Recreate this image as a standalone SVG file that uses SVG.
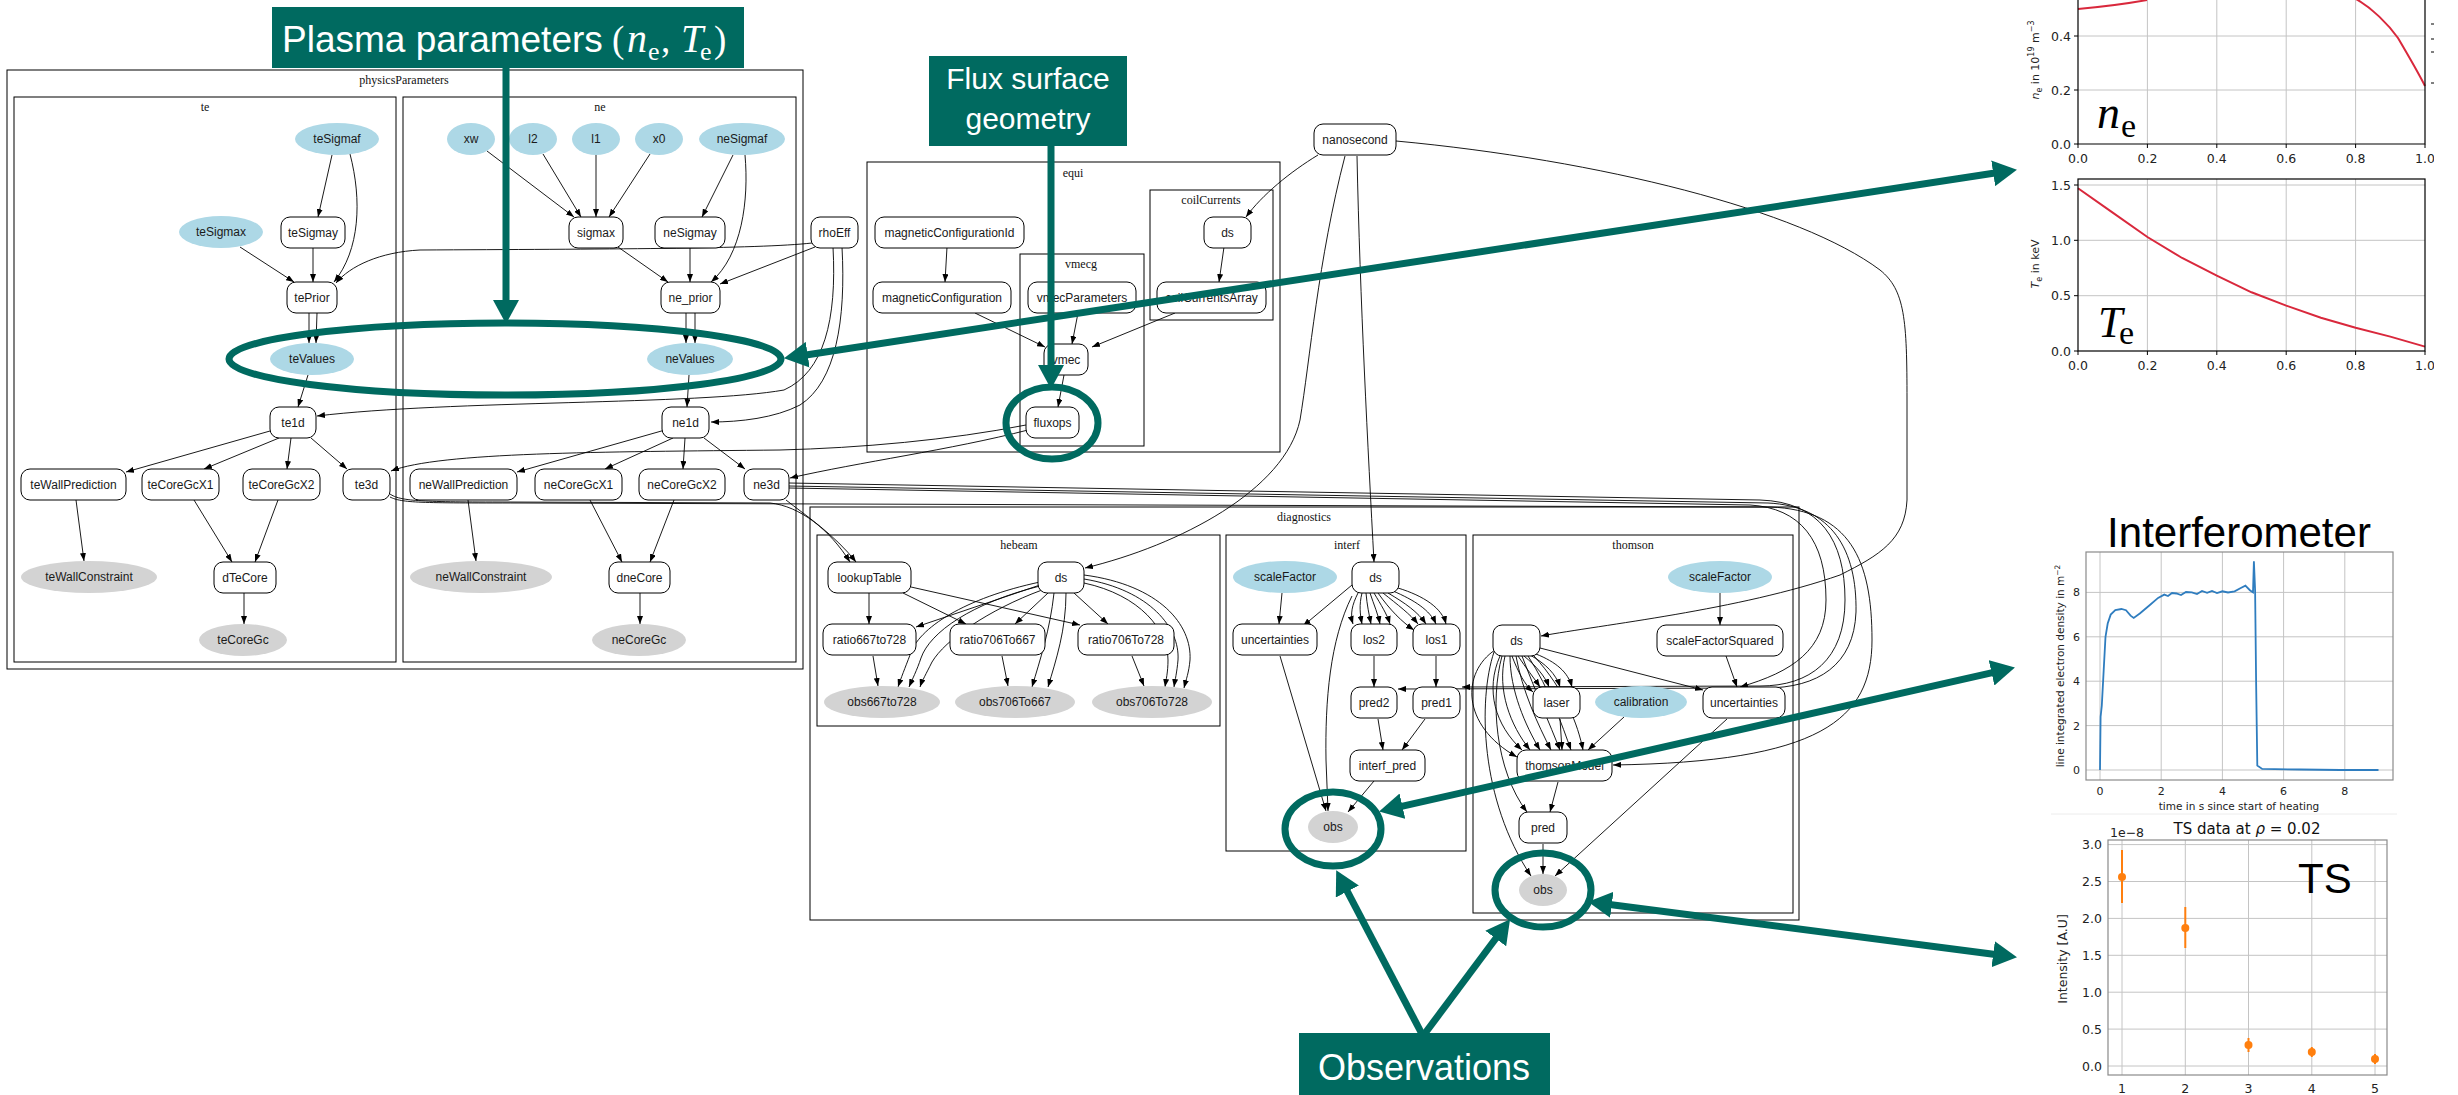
<svg xmlns="http://www.w3.org/2000/svg" width="2458" height="1095" viewBox="0 0 2458 1095">
<defs>
  <marker id="ah" viewBox="0 0 8 6" refX="8" refY="3" markerWidth="8" markerHeight="6" orient="auto" markerUnits="userSpaceOnUse">
    <path d="M0,0L8,3L0,6z" fill="#000"/>
  </marker>
  <marker id="tah" viewBox="0 0 24 26" refX="10" refY="13" markerWidth="24" markerHeight="26" orient="auto-start-reverse" markerUnits="userSpaceOnUse">
    <path d="M0,0L24,13L0,26z" fill="#006A60"/>
  </marker>
  <clipPath id="plotclip"><rect x="1990" y="0" width="444" height="1095"/></clipPath>
</defs>
<style>
  .box rect{fill:#fff;stroke:#000;stroke-width:1}
  .par ellipse{fill:#add8e6}
  .obs ellipse{fill:#d3d3d3}
  .node text{font-family:"Liberation Sans",Arial,sans-serif;font-size:12px;text-anchor:middle;fill:#1a1a1a}
  .cl rect{fill:none;stroke:#000;stroke-width:1}
  .cl text{font-family:"Liberation Serif","Times New Roman",serif;font-size:12px;text-anchor:middle;fill:#111}
  #edges path{fill:none;stroke:#000;stroke-width:0.9;marker-end:url(#ah)}
  .tl{fill:none;stroke:#006A60;stroke-width:7}
  .tl.arr{marker-end:url(#tah)}
  .tl.dbl{marker-start:url(#tah);marker-end:url(#tah)}
  .ring{fill:none;stroke:#006A60;stroke-width:7}
  .tbox{fill:#006A60}
  .ttxt{font-family:"Liberation Sans",Arial,sans-serif;fill:#fff}
  .math{font-family:"Liberation Serif","Times New Roman",serif;fill:#fff}
  .grid{stroke:#c4c4c4;stroke-width:1}
  .ax{fill:none;stroke:#000;stroke-width:1.2}
  .axg{fill:none;stroke:#8a8a8a;stroke-width:1.2}
  .tk{font-family:"DejaVu Sans",sans-serif;font-size:12.5px;fill:#222}
  .tks{font-family:"DejaVu Sans",sans-serif;font-size:11px;fill:#222}
</style>
<rect width="2458" height="1095" fill="#fff"/>

<!-- clusters -->
<g id="clusters">
  <g class="cl" id="cl-physicsParameters"><rect x="7" y="70" width="796" height="599"/><text x="404" y="84">physicsParameters</text></g>
  <g class="cl" id="cl-te"><rect x="14" y="97" width="382" height="565"/><text x="205" y="111">te</text></g>
  <g class="cl" id="cl-ne"><rect x="403" y="97" width="393" height="565"/><text x="600" y="111">ne</text></g>
  <g class="cl" id="cl-equi"><rect x="867" y="162" width="413" height="290"/><text x="1073" y="177">equi</text></g>
  <g class="cl" id="cl-vmecg"><rect x="1020" y="254" width="124" height="192"/><text x="1081" y="268">vmecg</text></g>
  <g class="cl" id="cl-coilCurrents"><rect x="1150" y="190" width="123" height="130"/><text x="1211" y="204">coilCurrents</text></g>
  <g class="cl" id="cl-diagnostics"><rect x="810" y="507" width="989" height="413"/><text x="1304" y="521">diagnostics</text></g>
  <g class="cl" id="cl-hebeam"><rect x="817" y="535" width="403" height="191"/><text x="1019" y="549">hebeam</text></g>
  <g class="cl" id="cl-interf"><rect x="1226" y="535" width="240" height="316"/><text x="1347" y="549">interf</text></g>
  <g class="cl" id="cl-thomson"><rect x="1473" y="535" width="320" height="378"/><text x="1633" y="549">thomson</text></g>
</g>

<!-- connectors -->
<g id="edges">
  <!-- te -->
  <path d="M332,155 L318,217"/>
  <path d="M350,154 C362,200 360,250 334,282"/>
  <path d="M240,247 L294,282"/>
  <path d="M313,247 L313,282"/>
  <path d="M309,313 L309,343"/>
  <path d="M317,313 L316,343"/>
  <path d="M308,375 L298,407"/>
  <path d="M812,243 C760,249 600,249 420,250 C380,252 350,266 336,283"/>
  <path d="M815,247 L720,284"/>
  <path d="M833,247 C837,320 824,372 784,390 C700,405 450,400 317,416"/>
  <path d="M842,247 C846,320 836,382 800,405 C775,418 740,422 711,422"/>
  <path d="M270,431 L126,472"/>
  <path d="M279,438 L204,469"/>
  <path d="M291,438 L287,469"/>
  <path d="M311,438 L347,469"/>
  <path d="M76,500 L84,561"/>
  <path d="M194,500 L232,562"/>
  <path d="M278,500 L255,562"/>
  <path d="M244,593 L244,624"/>
  <!-- ne -->
  <path d="M487,151 L574,217"/>
  <path d="M543,154 L581,217"/>
  <path d="M596,155 L596,217"/>
  <path d="M650,154 L609,217"/>
  <path d="M733,155 L702,217"/>
  <path d="M745,155 C749,200 742,255 711,282"/>
  <path d="M618,247 L668,282"/>
  <path d="M690,247 L690,282"/>
  <path d="M686,313 L686,343"/>
  <path d="M695,313 L695,343"/>
  <path d="M689,375 L687,407"/>
  <path d="M665,430 L517,472"/>
  <path d="M673,438 L605,469"/>
  <path d="M685,438 L683,469"/>
  <path d="M704,438 L745,469"/>
  <path d="M468,500 L476,561"/>
  <path d="M590,500 L622,562"/>
  <path d="M674,500 L650,562"/>
  <path d="M640,593 L640,624"/>
  <!-- equi -->
  <path d="M947,247 L945,282"/>
  <path d="M975,313 L1045,347"/>
  <path d="M1078,313 L1072,344"/>
  <path d="M1175,313 L1092,347"/>
  <path d="M1224,247 L1219,282"/>
  <path d="M1064,375 L1058,407"/>
  <path d="M1318,155 C1290,172 1262,195 1246,217"/>
  <path d="M1026,425 C950,440 860,448 780,450 C600,452 440,452 391,471"/>
  <path d="M1028,430 C950,450 860,462 790,478"/>
  <!-- profiles into diagnostics -->
  <path d="M390,494 C400,501 420,502 500,502 L770,503 C800,506 830,530 850,562"/>
  <path d="M786,500 C805,515 835,535 856,562"/>
  <path d="M390,497 C402,503 420,503 520,503 L1770,507 C1850,510 1872,560 1872,640 C1872,720 1820,762 1613,765"/>
  <path d="M789,483 L1760,500 C1820,502 1845,540 1845,600 C1845,660 1810,686 1760,686 L1462,687"/>
  <path d="M789,486 L1768,503 C1832,506 1857,550 1856,612 C1854,665 1818,688 1765,688 L1398,689"/>
  <path d="M789,488 L1750,505 C1800,508 1826,540 1826,600 C1826,650 1792,672 1740,687"/>
  <!-- nanosecond -->
  <path d="M1345,156 C1318,260 1310,360 1300,420 C1285,490 1180,545 1085,568"/>
  <path d="M1357,156 C1360,300 1368,450 1374,562"/>
  <path d="M1396,141 C1600,160 1800,210 1880,270 C1905,290 1907,320 1907,400 L1907,500 C1905,540 1880,555 1840,575 C1740,610 1600,625 1541,636"/>
  <!-- hebeam -->
  <path d="M869,593 L869,624"/>
  <path d="M903,593 L966,624"/>
  <path d="M911,587 L1080,625"/>
  <path d="M1040,585 L916,627"/>
  <path d="M1048,593 L1015,624"/>
  <path d="M1074,593 L1108,624"/>
  <path d="M1040,582 C965,598 918,628 910,655 C905,668 901,678 898,687"/>
  <path d="M1040,586 C972,603 930,632 921,658 C917,670 912,680 909,687"/>
  <path d="M1042,590 C988,610 945,640 932,662 C926,674 922,681 920,687"/>
  <path d="M1054,593 C1050,630 1040,660 1032,687"/>
  <path d="M1066,593 C1066,630 1056,660 1048,687"/>
  <path d="M1084,575 C1160,585 1192,625 1190,660 C1189,672 1186,680 1184,688"/>
  <path d="M1084,579 C1150,590 1180,628 1178,660 C1177,672 1175,680 1174,687"/>
  <path d="M1084,583 C1140,595 1168,630 1168,660 C1168,672 1166,680 1165,687"/>
  <path d="M873,656 L878,686"/>
  <path d="M1002,656 L1008,686"/>
  <path d="M1132,656 L1144,686"/>
  <!-- interf -->
  <path d="M1282,593 L1279,624"/>
  <path d="M1352,585 L1303,626"/>
  <path d="M1358,593 C1352,605 1350,614 1353,624"/>
  <path d="M1362,593 C1359,605 1360,614 1362,624"/>
  <path d="M1366,593 C1367,605 1369,614 1371,624"/>
  <path d="M1370,593 C1374,605 1378,614 1380,624"/>
  <path d="M1374,593 C1381,605 1387,614 1390,624"/>
  <path d="M1378,593 C1390,610 1402,622 1414,630"/>
  <path d="M1383,593 C1398,605 1410,614 1418,624"/>
  <path d="M1388,593 C1405,603 1418,612 1426,624"/>
  <path d="M1393,591 C1414,600 1430,610 1436,624"/>
  <path d="M1398,588 C1424,596 1442,608 1446,624"/>
  <path d="M1352,596 C1330,640 1325,700 1326,760 L1328,811"/>
  <path d="M1280,656 L1326,811"/>
  <path d="M1374,656 L1374,687"/>
  <path d="M1436,656 L1436,687"/>
  <path d="M1378,719 L1383,750"/>
  <path d="M1425,719 L1402,750"/>
  <path d="M1374,781 L1348,812"/>
  <!-- thomson -->
  <path d="M1720,593 L1720,625"/>
  <path d="M1726,656 L1737,687"/>
  <path d="M1540,648 L1703,690"/>
  <path d="M1512,656 C1518,672 1525,685 1533,692"/>
  <path d="M1518,656 C1526,668 1534,678 1540,687"/>
  <path d="M1524,656 C1536,666 1545,676 1549,687"/>
  <path d="M1530,655 C1546,664 1556,674 1560,687"/>
  <path d="M1536,654 C1556,662 1568,672 1572,687"/>
  <path d="M1500,656 C1485,690 1495,725 1522,750"/>
  <path d="M1505,656 C1497,690 1510,725 1530,750"/>
  <path d="M1510,656 C1510,690 1525,725 1540,750"/>
  <path d="M1516,656 C1522,690 1538,725 1551,750"/>
  <path d="M1522,656 C1535,690 1550,725 1560,750"/>
  <path d="M1528,656 C1550,690 1562,725 1571,750"/>
  <path d="M1534,656 C1565,690 1578,725 1583,750"/>
  <path d="M1495,650 C1462,672 1460,725 1517,757"/>
  <path d="M1624,717 L1588,750"/>
  <path d="M1560,719 L1562,750"/>
  <path d="M1558,782 L1550,812"/>
  <path d="M1502,656 C1490,700 1495,770 1527,812"/>
  <path d="M1494,652 C1478,700 1480,800 1531,876"/>
  <path d="M1543,844 L1543,874"/>
  <path d="M1727,719 L1555,876"/>
</g>

<!-- nodes: physicsParameters / te -->
<g id="n-teSigmaf" class="node par"><ellipse cx="337" cy="139" rx="42" ry="16"/><text x="337" y="143">teSigmaf</text></g>
<g id="n-teSigmax" class="node par"><ellipse cx="221" cy="232" rx="42" ry="16"/><text x="221" y="236">teSigmax</text></g>
<g id="n-teSigmay" class="node box"><rect x="281" y="217" width="64" height="31" rx="9"/><text x="313" y="236.5">teSigmay</text></g>
<g id="n-tePrior" class="node box"><rect x="287" y="282" width="50" height="31" rx="9"/><text x="312" y="301.5">tePrior</text></g>
<g id="n-teValues" class="node par"><ellipse cx="312" cy="359" rx="42" ry="16"/><text x="312" y="363">teValues</text></g>
<g id="n-te1d" class="node box"><rect x="270" y="407" width="46" height="31" rx="9"/><text x="293" y="426.5">te1d</text></g>
<g id="n-teWallPrediction" class="node box"><rect x="21" y="469" width="105" height="31" rx="9"/><text x="73.5" y="488.5">teWallPrediction</text></g>
<g id="n-teCoreGcX1" class="node box"><rect x="142" y="469" width="77" height="31" rx="9"/><text x="180.5" y="488.5">teCoreGcX1</text></g>
<g id="n-teCoreGcX2" class="node box"><rect x="243" y="469" width="77" height="31" rx="9"/><text x="281.5" y="488.5">teCoreGcX2</text></g>
<g id="n-te3d" class="node box"><rect x="343" y="469" width="47" height="31" rx="9"/><text x="366.5" y="488.5">te3d</text></g>
<g id="n-teWallConstraint" class="node obs"><ellipse cx="89" cy="577" rx="68" ry="16"/><text x="89" y="581">teWallConstraint</text></g>
<g id="n-dTeCore" class="node box"><rect x="214" y="562" width="62" height="31" rx="9"/><text x="245" y="581.5">dTeCore</text></g>
<g id="n-teCoreGc" class="node obs"><ellipse cx="243" cy="640" rx="44" ry="16"/><text x="243" y="644">teCoreGc</text></g>

<!-- nodes: ne -->
<g id="n-xw" class="node par"><ellipse cx="471" cy="139" rx="24" ry="16"/><text x="471" y="143">xw</text></g>
<g id="n-l2" class="node par"><ellipse cx="533" cy="139" rx="24" ry="16"/><text x="533" y="143">l2</text></g>
<g id="n-l1" class="node par"><ellipse cx="596" cy="139" rx="24" ry="16"/><text x="596" y="143">l1</text></g>
<g id="n-x0" class="node par"><ellipse cx="659" cy="139" rx="24" ry="16"/><text x="659" y="143">x0</text></g>
<g id="n-neSigmaf" class="node par"><ellipse cx="742" cy="139" rx="43" ry="16"/><text x="742" y="143">neSigmaf</text></g>
<g id="n-sigmax" class="node box"><rect x="569" y="217" width="54" height="31" rx="9"/><text x="596" y="236.5">sigmax</text></g>
<g id="n-neSigmay" class="node box"><rect x="655" y="217" width="70" height="31" rx="9"/><text x="690" y="236.5">neSigmay</text></g>
<g id="n-ne_prior" class="node box"><rect x="661" y="282" width="59" height="31" rx="9"/><text x="690.5" y="301.5">ne_prior</text></g>
<g id="n-neValues" class="node par"><ellipse cx="690" cy="359" rx="43" ry="16"/><text x="690" y="363">neValues</text></g>
<g id="n-ne1d" class="node box"><rect x="662" y="407" width="47" height="31" rx="9"/><text x="685.5" y="426.5">ne1d</text></g>
<g id="n-neWallPrediction" class="node box"><rect x="410" y="469" width="107" height="31" rx="9"/><text x="463.5" y="488.5">neWallPrediction</text></g>
<g id="n-neCoreGcX1" class="node box"><rect x="535" y="469" width="87" height="31" rx="9"/><text x="578.5" y="488.5">neCoreGcX1</text></g>
<g id="n-neCoreGcX2" class="node box"><rect x="639" y="469" width="86" height="31" rx="9"/><text x="682" y="488.5">neCoreGcX2</text></g>
<g id="n-ne3d" class="node box"><rect x="744" y="469" width="45" height="31" rx="9"/><text x="766.5" y="488.5">ne3d</text></g>
<g id="n-neWallConstraint" class="node obs"><ellipse cx="481" cy="577" rx="71" ry="16"/><text x="481" y="581">neWallConstraint</text></g>
<g id="n-dneCore" class="node box"><rect x="609" y="562" width="61" height="31" rx="9"/><text x="639.5" y="581.5">dneCore</text></g>
<g id="n-neCoreGc" class="node obs"><ellipse cx="639" cy="640" rx="47" ry="16"/><text x="639" y="644">neCoreGc</text></g>

<!-- nodes: shared / equi -->
<g id="n-rhoEff" class="node box"><rect x="811" y="217" width="47" height="31" rx="9"/><text x="834.5" y="236.5">rhoEff</text></g>
<g id="n-nanosecond" class="node box"><rect x="1314" y="124" width="82" height="31" rx="9"/><text x="1355" y="143.5">nanosecond</text></g>
<g id="n-magneticConfigurationId" class="node box"><rect x="875" y="217" width="149" height="31" rx="9"/><text x="949.5" y="236.5">magneticConfigurationId</text></g>
<g id="n-magneticConfiguration" class="node box"><rect x="873" y="282" width="138" height="31" rx="9"/><text x="942" y="301.5">magneticConfiguration</text></g>
<g id="n-vmecParameters" class="node box"><rect x="1028" y="282" width="108" height="31" rx="9"/><text x="1082" y="301.5">vmecParameters</text></g>
<g id="n-vmec" class="node box"><rect x="1044" y="344" width="44" height="31" rx="9"/><text x="1066" y="363.5">vmec</text></g>
<g id="n-fluxops" class="node box"><rect x="1026" y="407" width="53" height="31" rx="9"/><text x="1052.5" y="426.5">fluxops</text></g>
<g id="n-coil-ds" class="node box"><rect x="1204" y="217" width="47" height="31" rx="9"/><text x="1227.5" y="236.5">ds</text></g>
<g id="n-coilCurrentsArray" class="node box"><rect x="1157" y="282" width="109" height="31" rx="9"/><text x="1211.5" y="301.5">coilCurrentsArray</text></g>

<!-- nodes: hebeam -->
<g id="n-lookupTable" class="node box"><rect x="828" y="562" width="83" height="31" rx="9"/><text x="869.5" y="581.5">lookupTable</text></g>
<g id="n-hebeam-ds" class="node box"><rect x="1038" y="562" width="46" height="31" rx="9"/><text x="1061" y="581.5">ds</text></g>
<g id="n-ratio667to728" class="node box"><rect x="823" y="624" width="93" height="31" rx="9"/><text x="869.5" y="643.5">ratio667to728</text></g>
<g id="n-ratio706To667" class="node box"><rect x="950" y="624" width="95" height="31" rx="9"/><text x="997.5" y="643.5">ratio706To667</text></g>
<g id="n-ratio706To728" class="node box"><rect x="1078" y="624" width="96" height="31" rx="9"/><text x="1126" y="643.5">ratio706To728</text></g>
<g id="n-obs667to728" class="node obs"><ellipse cx="882" cy="702" rx="58" ry="16"/><text x="882" y="706">obs667to728</text></g>
<g id="n-obs706To667" class="node obs"><ellipse cx="1015" cy="702" rx="60" ry="16"/><text x="1015" y="706">obs706To667</text></g>
<g id="n-obs706To728" class="node obs"><ellipse cx="1152" cy="702" rx="60" ry="16"/><text x="1152" y="706">obs706To728</text></g>

<!-- nodes: interf -->
<g id="n-interf-scaleFactor" class="node par"><ellipse cx="1285" cy="577" rx="52" ry="16"/><text x="1285" y="581">scaleFactor</text></g>
<g id="n-interf-ds" class="node box"><rect x="1352" y="562" width="47" height="31" rx="9"/><text x="1375.5" y="581.5">ds</text></g>
<g id="n-interf-uncertainties" class="node box"><rect x="1233" y="624" width="84" height="31" rx="9"/><text x="1275" y="643.5">uncertainties</text></g>
<g id="n-los2" class="node box"><rect x="1351" y="624" width="46" height="31" rx="9"/><text x="1374" y="643.5">los2</text></g>
<g id="n-los1" class="node box"><rect x="1413" y="624" width="47" height="31" rx="9"/><text x="1436.5" y="643.5">los1</text></g>
<g id="n-pred2" class="node box"><rect x="1351" y="687" width="46" height="31" rx="9"/><text x="1374" y="706.5">pred2</text></g>
<g id="n-pred1" class="node box"><rect x="1413" y="687" width="47" height="31" rx="9"/><text x="1436.5" y="706.5">pred1</text></g>
<g id="n-interf_pred" class="node box"><rect x="1350" y="750" width="75" height="31" rx="9"/><text x="1387.5" y="769.5">interf_pred</text></g>
<g id="n-interf-obs" class="node obs"><ellipse cx="1333" cy="827" rx="25" ry="16"/><text x="1333" y="831">obs</text></g>

<!-- nodes: thomson -->
<g id="n-thomson-scaleFactor" class="node par"><ellipse cx="1720" cy="577" rx="52" ry="16"/><text x="1720" y="581">scaleFactor</text></g>
<g id="n-thomson-ds" class="node box"><rect x="1493" y="625" width="47" height="31" rx="9"/><text x="1516.5" y="644.5">ds</text></g>
<g id="n-scaleFactorSquared" class="node box"><rect x="1657" y="625" width="126" height="31" rx="9"/><text x="1720" y="644.5">scaleFactorSquared</text></g>
<g id="n-laser" class="node box"><rect x="1533" y="687" width="47" height="31" rx="9"/><text x="1556.5" y="706.5">laser</text></g>
<g id="n-calibration" class="node par"><ellipse cx="1641" cy="702" rx="46" ry="16"/><text x="1641" y="706">calibration</text></g>
<g id="n-thomson-uncertainties" class="node box"><rect x="1703" y="687" width="82" height="31" rx="9"/><text x="1744" y="706.5">uncertainties</text></g>
<g id="n-thomsonModel" class="node box"><rect x="1517" y="750" width="95" height="31" rx="9"/><text x="1564.5" y="769.5">thomsonModel</text></g>
<g id="n-thomson-pred" class="node box"><rect x="1519" y="812" width="48" height="31" rx="9"/><text x="1543" y="831.5">pred</text></g>
<g id="n-thomson-obs" class="node obs"><ellipse cx="1543" cy="890" rx="24" ry="16"/><text x="1543" y="894">obs</text></g>

<!-- plot: density profile -->
<g id="plot-ne" clip-path="url(#plotclip)">
  <g class="grid">
    <line x1="2147.4" y1="0" x2="2147.4" y2="144"/><line x1="2216.8" y1="0" x2="2216.8" y2="144"/>
    <line x1="2286.2" y1="0" x2="2286.2" y2="144"/><line x1="2355.6" y1="0" x2="2355.6" y2="144"/>
    <line x1="2078" y1="90" x2="2425" y2="90"/><line x1="2078" y1="36" x2="2425" y2="36"/>
  </g>
  <path d="M2078,9 C2100,7 2125,4 2147,0 M2356,-1 C2372,8 2388,24 2398,38 C2408,55 2418,72 2425,86" fill="none" stroke="#d9283c" stroke-width="2"/>
  <path class="ax" d="M2078,0 V144 H2425 V0"/>
  <g stroke="#000" stroke-width="1">
    <line x1="2074" y1="144" x2="2078" y2="144"/><line x1="2074" y1="90" x2="2078" y2="90"/><line x1="2074" y1="36" x2="2078" y2="36"/>
    <line x1="2078" y1="144" x2="2078" y2="148"/><line x1="2147.4" y1="144" x2="2147.4" y2="148"/><line x1="2216.8" y1="144" x2="2216.8" y2="148"/>
    <line x1="2286.2" y1="144" x2="2286.2" y2="148"/><line x1="2355.6" y1="144" x2="2355.6" y2="148"/><line x1="2425" y1="144" x2="2425" y2="148"/>
    <line x1="2431" y1="24" x2="2434" y2="24"/><line x1="2431" y1="39" x2="2434" y2="39"/><line x1="2431" y1="52" x2="2434" y2="52"/><line x1="2431" y1="83" x2="2434" y2="83"/>
  </g>
  <g class="tk" text-anchor="end">
    <text x="2071" y="148.5">0.0</text><text x="2071" y="94.5">0.2</text><text x="2071" y="40.5">0.4</text>
  </g>
  <g class="tk" text-anchor="middle">
    <text x="2078" y="163">0.0</text><text x="2147.4" y="163">0.2</text><text x="2216.8" y="163">0.4</text>
    <text x="2286.2" y="163">0.6</text><text x="2355.6" y="163">0.8</text><text x="2425" y="163">1.0</text>
  </g>
  <text transform="translate(2039,60) rotate(-90)" text-anchor="middle" font-family="DejaVu Sans, sans-serif" font-size="11" fill="#222"><tspan font-style="italic">n</tspan><tspan font-size="8" dy="3">e</tspan><tspan dy="-3"> in 10</tspan><tspan font-size="8" dy="-5">19</tspan><tspan dy="5"> m</tspan><tspan font-size="8" dy="-5">−3</tspan></text>
  <text x="2097" y="128" font-family="Liberation Serif, serif" font-style="italic" font-size="46" fill="#000">n</text>
  <text x="2121" y="137" font-family="Liberation Serif, serif" font-size="34" fill="#000">e</text>
</g>

<!-- plot: temperature profile -->
<g id="plot-te" clip-path="url(#plotclip)">
  <g class="grid">
    <line x1="2147.4" y1="179" x2="2147.4" y2="351"/><line x1="2216.8" y1="179" x2="2216.8" y2="351"/>
    <line x1="2286.2" y1="179" x2="2286.2" y2="351"/><line x1="2355.6" y1="179" x2="2355.6" y2="351"/>
    <line x1="2078" y1="185" x2="2425" y2="185"/><line x1="2078" y1="240.3" x2="2425" y2="240.3"/><line x1="2078" y1="295.7" x2="2425" y2="295.7"/>
  </g>
  <polyline fill="none" stroke="#d9283c" stroke-width="2" points="2078,188.3 2112.7,212.6 2147.4,237 2182.1,258 2216.8,275.7 2251.5,292.3 2286.2,305.6 2320.9,317.8 2355.6,327.8 2390.3,336.6 2425,346.6"/>
  <rect class="ax" x="2078" y="179" width="347" height="172"/>
  <g stroke="#000" stroke-width="1">
    <line x1="2074" y1="351" x2="2078" y2="351"/><line x1="2074" y1="295.7" x2="2078" y2="295.7"/><line x1="2074" y1="240.3" x2="2078" y2="240.3"/><line x1="2074" y1="185" x2="2078" y2="185"/>
    <line x1="2078" y1="351" x2="2078" y2="355"/><line x1="2147.4" y1="351" x2="2147.4" y2="355"/><line x1="2216.8" y1="351" x2="2216.8" y2="355"/>
    <line x1="2286.2" y1="351" x2="2286.2" y2="355"/><line x1="2355.6" y1="351" x2="2355.6" y2="355"/><line x1="2425" y1="351" x2="2425" y2="355"/>
  </g>
  <g class="tk" text-anchor="end">
    <text x="2071" y="355.5">0.0</text><text x="2071" y="300">0.5</text><text x="2071" y="244.8">1.0</text><text x="2071" y="189.5">1.5</text>
  </g>
  <g class="tk" text-anchor="middle">
    <text x="2078" y="370">0.0</text><text x="2147.4" y="370">0.2</text><text x="2216.8" y="370">0.4</text>
    <text x="2286.2" y="370">0.6</text><text x="2355.6" y="370">0.8</text><text x="2425" y="370">1.0</text>
  </g>
  <text transform="translate(2039,264) rotate(-90)" text-anchor="middle" font-family="DejaVu Sans, sans-serif" font-size="11" fill="#222"><tspan font-style="italic">T</tspan><tspan font-size="8" dy="3">e</tspan><tspan dy="-3"> in keV</tspan></text>
  <text x="2098" y="337" font-family="Liberation Serif, serif" font-style="italic" font-size="44" fill="#000">T</text>
  <text x="2119" y="344" font-family="Liberation Serif, serif" font-size="34" fill="#000">e</text>
</g>

<!-- plot: interferometer -->
<g id="plot-interferometer">
  <text x="2239" y="547" text-anchor="middle" font-family="Liberation Sans, Arial, sans-serif" font-size="42" fill="#000">Interferometer</text>
  <g class="grid">
    <line x1="2100" y1="552" x2="2100" y2="780"/><line x1="2161.2" y1="552" x2="2161.2" y2="780"/><line x1="2222.4" y1="552" x2="2222.4" y2="780"/>
    <line x1="2283.6" y1="552" x2="2283.6" y2="780"/><line x1="2344.8" y1="552" x2="2344.8" y2="780"/>
    <line x1="2086" y1="770" x2="2393" y2="770"/><line x1="2086" y1="725.6" x2="2393" y2="725.6"/><line x1="2086" y1="681.2" x2="2393" y2="681.2"/>
    <line x1="2086" y1="636.8" x2="2393" y2="636.8"/><line x1="2086" y1="592.4" x2="2393" y2="592.4"/>
  </g>
  <polyline fill="none" stroke="#2f7dbf" stroke-width="1.8" points="2100,770 2100.6,716.7 2101.8,705.6 2103.7,670.1 2105.5,636.8 2107.7,623.5 2110.7,614.6 2115.3,610.2 2121.4,609 2126,610.2 2130.6,615.7 2133.7,617.9 2139.8,613.5 2149,605.7 2158.1,597.9 2164.3,594.6 2168,596 2172,593 2176.5,593.5 2181,595 2186,592 2191.8,592.4 2197,594 2202,591 2207.1,592.8 2212,591 2217,593 2222.4,591.3 2228,592.5 2234.6,591.3 2240.8,588 2245.4,585.7 2249.9,590.2 2253,592.4 2253.9,561.3 2255.1,590.2 2256.1,681.2 2257.3,765.6 2262.2,768.9 2300,769.5 2340,770 2378.5,770"/>
  <rect class="axg" x="2086" y="552" width="307" height="228"/>
  <g class="tks" text-anchor="end">
    <text x="2080" y="774">0</text><text x="2080" y="729.6">2</text><text x="2080" y="685.2">4</text><text x="2080" y="640.8">6</text><text x="2080" y="596.4">8</text>
  </g>
  <g class="tks" text-anchor="middle">
    <text x="2100" y="795">0</text><text x="2161.2" y="795">2</text><text x="2222.4" y="795">4</text><text x="2283.6" y="795">6</text><text x="2344.8" y="795">8</text>
  </g>
  <text x="2239" y="810" text-anchor="middle" font-family="DejaVu Sans, sans-serif" font-size="10.5" fill="#222">time in s since start of heating</text>
  <text transform="translate(2064,666) rotate(-90)" text-anchor="middle" font-family="DejaVu Sans, sans-serif" font-size="10.5" fill="#222">line integrated electron density in m<tspan font-size="7.5" dy="-4">−2</tspan></text>
  <line x1="2051" y1="814" x2="2397" y2="814" stroke="#ececec" stroke-width="1"/>
</g>

<!-- plot: Thomson scattering -->
<g id="plot-ts">
  <text x="2247" y="834" text-anchor="middle" font-family="DejaVu Sans, sans-serif" font-size="15" fill="#111">TS data at <tspan font-style="italic">ρ</tspan> = 0.02</text>
  <text x="2110" y="837" font-family="DejaVu Sans, sans-serif" font-size="12.5" fill="#222">1e−8</text>
  <g class="grid">
    <line x1="2122" y1="840" x2="2122" y2="1075"/><line x1="2185.3" y1="840" x2="2185.3" y2="1075"/><line x1="2248.5" y1="840" x2="2248.5" y2="1075"/>
    <line x1="2311.8" y1="840" x2="2311.8" y2="1075"/><line x1="2375" y1="840" x2="2375" y2="1075"/>
    <line x1="2108" y1="1066" x2="2387" y2="1066"/><line x1="2108" y1="1029.1" x2="2387" y2="1029.1"/><line x1="2108" y1="992.2" x2="2387" y2="992.2"/>
    <line x1="2108" y1="955.3" x2="2387" y2="955.3"/><line x1="2108" y1="918.4" x2="2387" y2="918.4"/><line x1="2108" y1="881.5" x2="2387" y2="881.5"/><line x1="2108" y1="844.6" x2="2387" y2="844.6"/>
  </g>
  <g stroke="#ff7f0e" stroke-width="2">
    <line x1="2122" y1="850" x2="2122" y2="903"/><line x1="2185.3" y1="907" x2="2185.3" y2="948"/>
    <line x1="2248.5" y1="1038" x2="2248.5" y2="1052"/><line x1="2311.8" y1="1047" x2="2311.8" y2="1057"/><line x1="2375" y1="1054" x2="2375" y2="1064"/>
  </g>
  <g fill="#ff7f0e">
    <circle cx="2122" cy="877" r="4"/><circle cx="2185.3" cy="928" r="4"/><circle cx="2248.5" cy="1045" r="4"/><circle cx="2311.8" cy="1052" r="4"/><circle cx="2375" cy="1059" r="4"/>
  </g>
  <rect class="axg" x="2108" y="840" width="279" height="235"/>
  <g class="tk" text-anchor="end">
    <text x="2102" y="1070.5">0.0</text><text x="2102" y="1033.6">0.5</text><text x="2102" y="996.7">1.0</text><text x="2102" y="959.8">1.5</text>
    <text x="2102" y="922.9">2.0</text><text x="2102" y="886">2.5</text><text x="2102" y="849.1">3.0</text>
  </g>
  <g class="tk" text-anchor="middle">
    <text x="2122" y="1093">1</text><text x="2185.3" y="1093">2</text><text x="2248.5" y="1093">3</text><text x="2311.8" y="1093">4</text><text x="2375" y="1093">5</text>
  </g>
  <text transform="translate(2067,959) rotate(-90)" text-anchor="middle" font-family="DejaVu Sans, sans-serif" font-size="12.5" fill="#222">Intensity [A.U]</text>
  <text x="2298" y="893" font-family="Liberation Sans, Arial, sans-serif" font-size="42" fill="#000">TS</text>
</g>

<!-- annotations -->
<g id="ann-plasma">
  <rect class="tbox" x="272" y="7" width="472" height="61"/>
  <text class="ttxt" x="282" y="52" font-size="37">Plasma parameters</text>
  <text class="math" y="52" font-size="37"><tspan x="612">(</tspan><tspan x="627" font-style="italic" font-size="40">n</tspan><tspan x="648" dy="8" font-size="26">e</tspan><tspan x="661" dy="-8">,</tspan><tspan x="681" font-style="italic" font-size="40">T</tspan><tspan x="700" dy="8" font-size="26">e</tspan><tspan x="714" dy="-8">)</tspan></text>
  <line class="tl arr" x1="506" y1="68" x2="506" y2="310"/>
  <ellipse class="ring" cx="505" cy="359" rx="276" ry="36" stroke-width="8"/>
  <line class="tl dbl" x1="797.8" y1="356.2" x2="2003.1" y2="171.8"/>
</g>
<g id="ann-flux">
  <rect class="tbox" x="929" y="56" width="198" height="90"/>
  <text class="ttxt" x="1028" y="89" font-size="30" text-anchor="middle">Flux surface</text>
  <text class="ttxt" x="1028" y="129" font-size="30" text-anchor="middle">geometry</text>
  <line class="tl arr" x1="1051" y1="146" x2="1051" y2="375"/>
  <ellipse class="ring" cx="1052" cy="423" rx="46" ry="36"/>
</g>
<g id="ann-observations">
  <ellipse class="ring" cx="1333" cy="829" rx="48" ry="37"/>
  <ellipse class="ring" cx="1543" cy="890" rx="48" ry="37"/>
  <line class="tl dbl" x1="1392.7" y1="808.4" x2="2001.3" y2="670.6"/>
  <line class="tl dbl" x1="1601.9" y1="903.5" x2="2003.1" y2="955.5"/>
  <line class="tl arr" x1="1423" y1="1036" x2="1342.7" y2="882.6"/>
  <line class="tl arr" x1="1423" y1="1036" x2="1501.7" y2="930.5"/>
  <rect class="tbox" x="1299" y="1033" width="251" height="62"/>
  <text class="ttxt" x="1424" y="1080" font-size="36" text-anchor="middle">Observations</text>
</g>
</svg>
